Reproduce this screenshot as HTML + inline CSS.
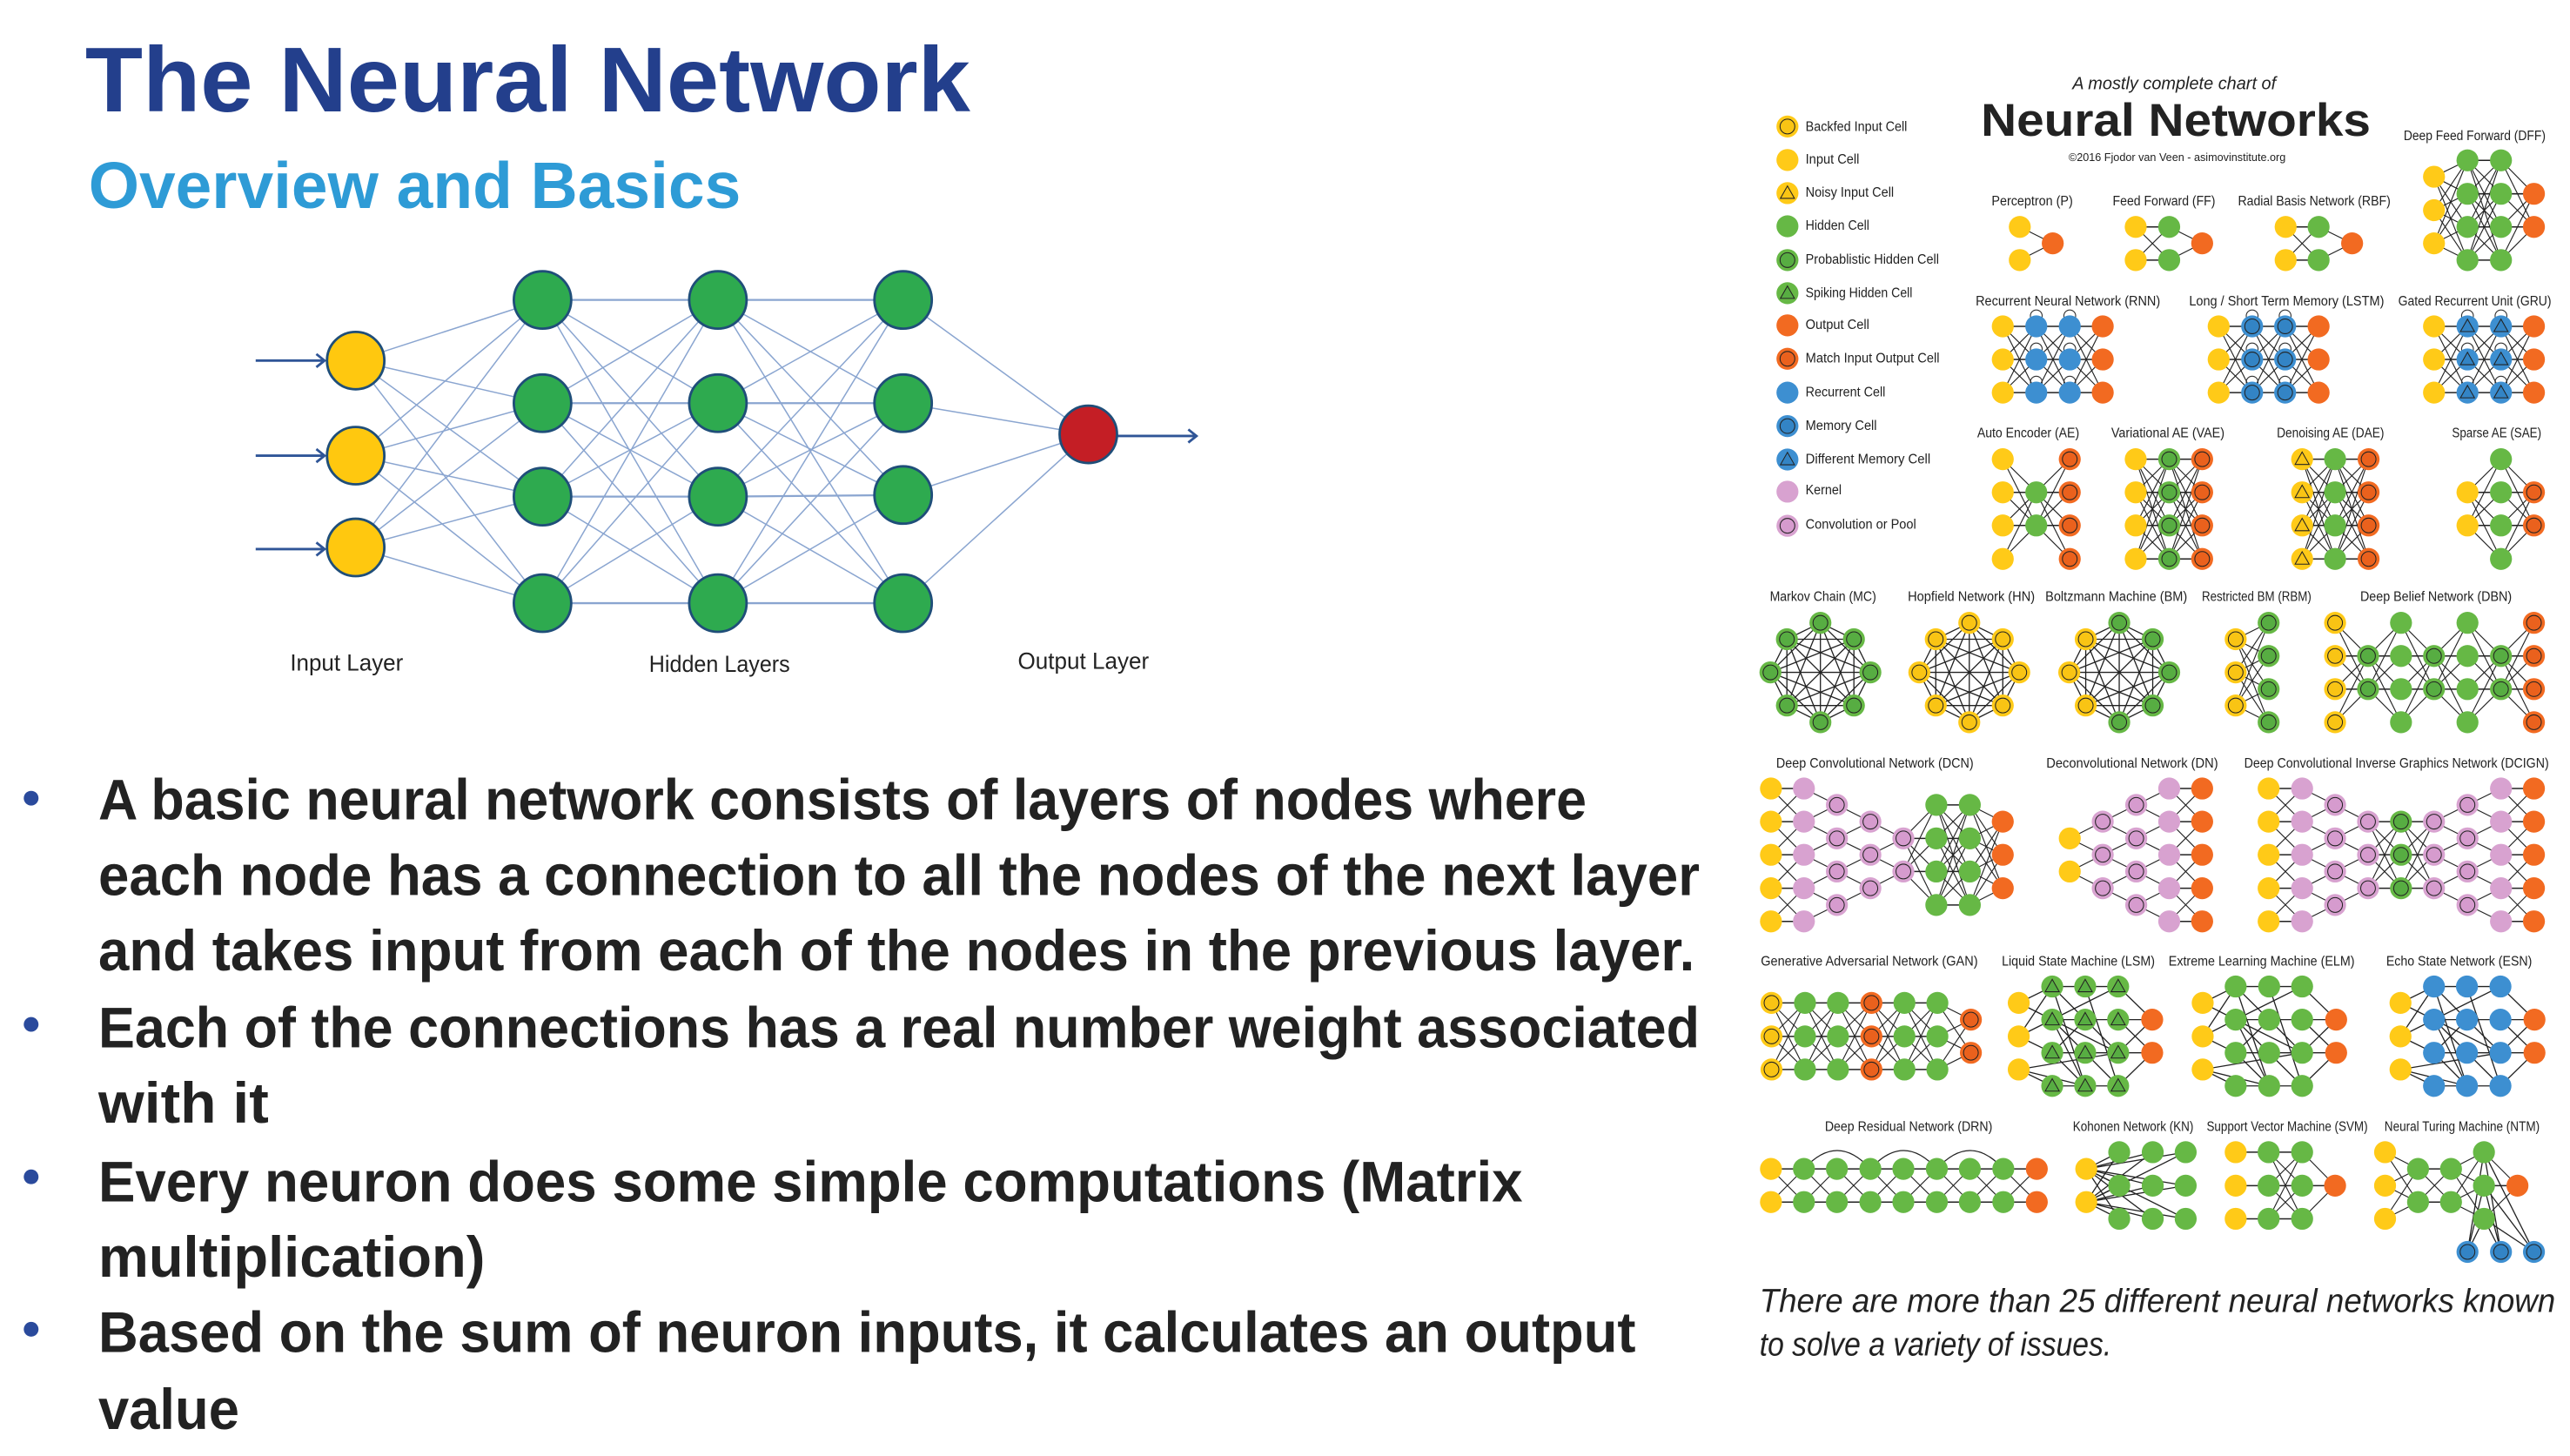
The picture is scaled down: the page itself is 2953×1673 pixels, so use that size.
<!DOCTYPE html>
<html lang="en">
<head>
<meta charset="utf-8">
<title>The Neural Network</title>
<style>
html,body{margin:0;padding:0;background:#fff;width:2953px;height:1673px;overflow:hidden}
svg{display:block}
text{font-family:"Liberation Sans",sans-serif}
.ti{font-weight:bold;fill:#233f8c}
.su{font-weight:bold;fill:#2e9bd6}
.bu{font-weight:bold;font-size:35px;fill:#222}
.la{font-size:14px;fill:#222}
.c{font-size:8.4px;fill:#222}
.cap{font-style:italic;font-size:20px;fill:#222}
</style>
</head>
<body>
<svg xmlns="http://www.w3.org/2000/svg" width="2953" height="1673" viewBox="0 0 1568 888.33">
<rect width="1568" height="889" fill="#fff"/>
<text class="ti" x="52" y="68" font-size="56" textLength="540" lengthAdjust="spacingAndGlyphs">The Neural Network</text>
<text class="su" x="54" y="127" font-size="40" textLength="398" lengthAdjust="spacingAndGlyphs">Overview and Basics</text>

<g id="lnn"></g>
<text class="la" x="177" y="409" textLength="69" lengthAdjust="spacingAndGlyphs">Input Layer</text>
<text class="la" x="396" y="410" textLength="86" lengthAdjust="spacingAndGlyphs">Hidden Layers</text>
<text class="la" x="621" y="408" textLength="80" lengthAdjust="spacingAndGlyphs">Output Layer</text>

<g fill="#2a4a9c"><circle cx="19" cy="487" r="4.5"/><circle cx="19" cy="625" r="4.5"/><circle cx="19" cy="718" r="4.5"/><circle cx="19" cy="811" r="4.5"/></g>
<text class="bu" x="60" y="500" textLength="908" lengthAdjust="spacingAndGlyphs">A basic neural network consists of layers of nodes where</text>
<text class="bu" x="60" y="546" textLength="977" lengthAdjust="spacingAndGlyphs">each node has a connection to all the nodes of the next layer</text>
<text class="bu" x="60" y="592" textLength="974" lengthAdjust="spacingAndGlyphs">and takes input from each of the nodes in the previous layer.</text>
<text class="bu" x="60" y="639" textLength="977" lengthAdjust="spacingAndGlyphs">Each of the connections has a real number weight associated</text>
<text class="bu" x="60" y="685" textLength="104" lengthAdjust="spacingAndGlyphs">with it</text>
<text class="bu" x="60" y="733" textLength="869" lengthAdjust="spacingAndGlyphs">Every neuron does some simple computations (Matrix</text>
<text class="bu" x="60" y="779" textLength="236" lengthAdjust="spacingAndGlyphs">multiplication)</text>
<text class="bu" x="60" y="825" textLength="938" lengthAdjust="spacingAndGlyphs">Based on the sum of neuron inputs, it calculates an output</text>
<text class="bu" x="60" y="872" textLength="86" lengthAdjust="spacingAndGlyphs">value</text>

<g id="edges"></g>
<g id="nodes"></g>

<text x="1264.4" y="54.3" font-size="11" font-style="italic" fill="#222" textLength="124.2" lengthAdjust="spacingAndGlyphs">A mostly complete chart of</text>
<text x="1208.6" y="82.9" font-size="28" font-weight="bold" fill="#222" textLength="237.8" lengthAdjust="spacingAndGlyphs">Neural Networks</text>
<text x="1262.1" y="98.2" font-size="7" fill="#222" textLength="132.4" lengthAdjust="spacingAndGlyphs">©2016 Fjodor van Veen - asimovinstitute.org</text>

<text class="c" x="1101.6" y="79.8" textLength="62" lengthAdjust="spacingAndGlyphs">Backfed Input Cell</text>
<text class="c" x="1101.6" y="99.9" textLength="32.8" lengthAdjust="spacingAndGlyphs">Input Cell</text>
<text class="c" x="1101.6" y="120.1" textLength="53.9" lengthAdjust="spacingAndGlyphs">Noisy Input Cell</text>
<text class="c" x="1101.6" y="140.3" textLength="38.9" lengthAdjust="spacingAndGlyphs">Hidden Cell</text>
<text class="c" x="1101.6" y="161" textLength="81.4" lengthAdjust="spacingAndGlyphs">Probablistic Hidden Cell</text>
<text class="c" x="1101.6" y="181.2" textLength="65.2" lengthAdjust="spacingAndGlyphs">Spiking Hidden Cell</text>
<text class="c" x="1101.6" y="200.8" textLength="38.9" lengthAdjust="spacingAndGlyphs">Output Cell</text>
<text class="c" x="1101.6" y="221.2" textLength="81.7" lengthAdjust="spacingAndGlyphs">Match Input Output Cell</text>
<text class="c" x="1101.6" y="241.8" textLength="48.7" lengthAdjust="spacingAndGlyphs">Recurrent Cell</text>
<text class="c" x="1101.6" y="262.3" textLength="43.5" lengthAdjust="spacingAndGlyphs">Memory Cell</text>
<text class="c" x="1101.6" y="282.7" textLength="76.2" lengthAdjust="spacingAndGlyphs">Different Memory Cell</text>
<text class="c" x="1101.6" y="301.7" textLength="22" lengthAdjust="spacingAndGlyphs">Kernel</text>
<text class="c" x="1101.6" y="322.5" textLength="67.5" lengthAdjust="spacingAndGlyphs">Convolution or Pool</text>

<text class="c" x="1466.5" y="85.4" textLength="86.6" lengthAdjust="spacingAndGlyphs">Deep Feed Forward (DFF)</text>
<text class="c" x="1215.1" y="125.4" textLength="49.6" lengthAdjust="spacingAndGlyphs">Perceptron (P)</text>
<text class="c" x="1289" y="125.4" textLength="62.6" lengthAdjust="spacingAndGlyphs">Feed Forward (FF)</text>
<text class="c" x="1365.4" y="125.4" textLength="93.1" lengthAdjust="spacingAndGlyphs">Radial Basis Network (RBF)</text>
<text class="c" x="1205.4" y="186.4" textLength="112.6" lengthAdjust="spacingAndGlyphs">Recurrent Neural Network (RNN)</text>
<text class="c" x="1335.6" y="186.4" textLength="119" lengthAdjust="spacingAndGlyphs">Long / Short Term Memory (LSTM)</text>
<text class="c" x="1463.2" y="186.4" textLength="93.4" lengthAdjust="spacingAndGlyphs">Gated Recurrent Unit (GRU)</text>
<text class="c" x="1206.3" y="266.8" textLength="62.3" lengthAdjust="spacingAndGlyphs">Auto Encoder (AE)</text>
<text class="c" x="1288.1" y="266.8" textLength="69.1" lengthAdjust="spacingAndGlyphs">Variational AE (VAE)</text>
<text class="c" x="1389.1" y="266.8" textLength="65.5" lengthAdjust="spacingAndGlyphs">Denoising AE (DAE)</text>
<text class="c" x="1496" y="266.8" textLength="54.5" lengthAdjust="spacingAndGlyphs">Sparse AE (SAE)</text>
<text class="c" x="1079.8" y="366.7" textLength="64.9" lengthAdjust="spacingAndGlyphs">Markov Chain (MC)</text>
<text class="c" x="1164" y="366.7" textLength="77.5" lengthAdjust="spacingAndGlyphs">Hopfield Network (HN)</text>
<text class="c" x="1247.9" y="366.7" textLength="86.6" lengthAdjust="spacingAndGlyphs">Boltzmann Machine (BM)</text>
<text class="c" x="1343.4" y="366.7" textLength="66.8" lengthAdjust="spacingAndGlyphs">Restricted BM (RBM)</text>
<text class="c" x="1440" y="366.7" textLength="92.5" lengthAdjust="spacingAndGlyphs">Deep Belief Network (DBN)</text>
<text class="c" x="1083.7" y="468.4" textLength="120.4" lengthAdjust="spacingAndGlyphs">Deep Convolutional Network (DCN)</text>
<text class="c" x="1248.5" y="468.4" textLength="104.8" lengthAdjust="spacingAndGlyphs">Deconvolutional Network (DN)</text>
<text class="c" x="1369.2" y="468.4" textLength="185.9" lengthAdjust="spacingAndGlyphs">Deep Convolutional Inverse Graphics Network (DCIGN)</text>
<text class="c" x="1074.3" y="589.2" textLength="132.4" lengthAdjust="spacingAndGlyphs">Generative Adversarial Network (GAN)</text>
<text class="c" x="1221.3" y="589.2" textLength="93.4" lengthAdjust="spacingAndGlyphs">Liquid State Machine (LSM)</text>
<text class="c" x="1323.1" y="589.2" textLength="113.5" lengthAdjust="spacingAndGlyphs">Extreme Learning Machine (ELM)</text>
<text class="c" x="1455.9" y="589.2" textLength="88.9" lengthAdjust="spacingAndGlyphs">Echo State Network (ESN)</text>
<text class="c" x="1113.4" y="690" textLength="102.2" lengthAdjust="spacingAndGlyphs">Deep Residual Network (DRN)</text>
<text class="c" x="1264.7" y="690" textLength="73.6" lengthAdjust="spacingAndGlyphs">Kohonen Network (KN)</text>
<text class="c" x="1346.3" y="690" textLength="98.3" lengthAdjust="spacingAndGlyphs">Support Vector Machine (SVM)</text>
<text class="c" x="1454.8" y="690" textLength="94.7" lengthAdjust="spacingAndGlyphs">Neural Turing Machine (NTM)</text>

<text class="cap" x="1073.5" y="800.5" textLength="485.6" lengthAdjust="spacingAndGlyphs">There are more than 25 different neural networks known</text>
<text class="cap" x="1073.5" y="827" textLength="214.8" lengthAdjust="spacingAndGlyphs">to solve a variety of issues.</text>
</svg>
<script>
(function(){
var OFF=[31.86,350.4,568.2],E='',N='',R=6.7;
function f(v){return Math.round(v*100)/100}
function P(z,x,y){return [1062+.3244*x,OFF[z]+.2042*y]}
function line(a,b,w,col){E+='<line x1="'+f(a[0])+'" y1="'+f(a[1])+'" x2="'+f(b[0])+'" y2="'+f(b[1])+'" stroke="'+(col||'#222')+'" stroke-width="'+(w||.6)+'"/>'}
var C={Y:'#ffca18',G:'#66b845',O:'#f26a21',B:'#3d8fd1',P:'#d8a2d0'},D={Y:'#f9c414',G:'#57ad42',O:'#ea611d',B:'#3384c5',P:'#d69bce'};
function node(p,t){
 var x=f(p[0]),y=f(p[1]),c=t[0],m=t[1];
 N+='<circle cx="'+x+'" cy="'+y+'" r="'+R+'" fill="'+C[c]+'"/>';
 if(m==='r')N+='<circle cx="'+x+'" cy="'+y+'" r="4.5" fill="'+D[c]+'" stroke="#222" stroke-width=".55"/>';
 if(m==='t')N+='<polygon points="'+x+','+f(y-4.4)+' '+f(x+4.3)+','+f(y+3.2)+' '+f(x-4.3)+','+f(y+3.2)+'" fill="'+D[c]+'" stroke="#222" stroke-width=".55"/>';
}
function net(z,L,M,loop){
 L.forEach(function(l,i){
  if(i<L.length-1){var m=M&&M[i]!==undefined?M[i]:'f',n=L[i+1];
   l[2].forEach(function(a){n[2].forEach(function(b){
    var d=Math.abs(a-b),ok=m==='f'||(m==='n'&&d<115)||(m==='s'&&d<5);
    if(ok)line(P(z,l[1],a),P(z,n[1],b),d<5?.8:.6,'#222');
   })});
  }
 });
 L.forEach(function(l,i){l[2].forEach(function(y){
  var p=P(z,l[1],y);node(p,l[0]);
  if(loop&&i>0&&i<L.length-1){E+='<circle cx="'+f(p[0])+'" cy="'+f(p[1]-6.4)+'" r="3.6" fill="none" stroke="#333" stroke-width=".6"/>'}
 })});
}
/* legend */
[['Yr',222],['Y',322],['Yt',421],['G',520],['Gr',621],['Gt',720],['O',816],['Or',916],['B',1017],['Br',1117],['Bt',1217],['P',1313],['Pr',1415]].forEach(function(a){node(P(0,88,a[1]),a[0])});
var r3=[819,918,1017],r4=[1216,1315,1414,1514],m2=[1315,1414];
/* row 1 */
net(0,[['Y',525,[522,621]],['O',587,[571]]]);
net(0,[['Y',743,[522,621]],['G',806,[522,621]],['O',868,[571]]]);
net(0,[['Y',1025,[522,621]],['G',1087,[522,621]],['O',1150,[571]]]);
net(0,[['Y',1304,[372,472,571]],['G',1367,[323,423,522,621]],['G',1430,[323,423,522,621]],['O',1492,[423,522]]]);
/* row 2 */
net(0,[['Y',493,r3],['B',556,r3],['B',619,r3],['O',681,r3]],null,1);
net(0,[['Y',899,r3],['Br',962,r3],['Br',1024,r3],['O',1087,r3]],null,1);
net(0,[['Y',1304,r3],['Bt',1367,r3],['Bt',1430,r3],['O',1492,r3]],null,1);
/* row 3 */
net(0,[['Y',493,r4],['G',556,m2],['Or',619,r4]]);
net(0,[['Y',743,r4],['Gr',806,r4],['Or',868,r4]]);
net(0,[['Yt',1056,r4],['G',1118,r4],['Or',1181,r4]]);
net(0,[['Y',1367,m2],['G',1430,r4],['Or',1492,m2]]);
/* ring nets */
function ring(cx,types){
 var pts=[[0,145],[63,194],[94,293],[63,392],[0,442],[-63,392],[-94,293],[-63,194]].map(function(q){return P(1,cx+q[0],q[1])});
 for(var i=0;i<8;i++)for(var j=i+1;j<8;j++)line(pts[i],pts[j],.7);
 pts.forEach(function(p,i){node(p,types[i])});
}
ring(150,['Gr','Gr','Gr','Gr','Gr','Gr','Gr','Gr']);
ring(430,['Yr','Yr','Yr','Yr','Yr','Yr','Yr','Yr']);
ring(712,['Gr','Gr','Gr','Gr','Gr','Yr','Yr','Yr']);
var a4=[145,244,343,442],a2=[244,343];
net(1,[['Yr',931,[194,293,392]],['Gr',993,a4]]);
net(1,[['Yr',1118,a4],['Gr',1180,a2],['G',1242,a4],['Gr',1304,a2],['G',1367,a4],['Gr',1430,a2],['Or',1492,a4]]);
/* conv */
var c5=[640,739,838,938,1037],c4=[689,789,888,988],c3=[739,838,938],c2=[789,888];
net(1,[['Y',57,c5],['P',119,c5],['Pr',181,c4],['Pr',244,c3],['Pr',306,c2],['G',368,c4],['G',431,c4],['O',493,c3]],['n','n','n','n','f','f','f']);
net(1,[['Y',619,c2],['Pr',681,c3],['Pr',744,c4],['P',806,c5],['O',868,c5]],['n','n','n','n']);
net(1,[['Y',993,c5],['P',1056,c5],['Pr',1118,c4],['Pr',1180,c3],['Gr',1242,c3],['Pr',1304,c3],['Pr',1367,c4],['P',1430,c5],['O',1492,c5]],['n','n','n','f','f','n','n','n']);
/* GAN */
var g3=[214,314,413];
net(2,[['Yr',58,g3],['G',121,g3],['G',183,g3],['Or',246,g3],['G',308,g3],['G',370,g3],['Or',433,[264,363]]]);
/* LSM/ELM/ESN */
function sparse(x0,xs,tI,t){
 var yI=[214,314,413],yA=[165,264,363,462],yO=[264,363];
 var pos={I:[x0,yI],A:[xs[0],yA],B:[xs[1],yA],C:[xs[2],yA],O:[xs[3],yO]};
 function pt(k){return P(2,pos[k[0]][0],pos[k[0]][1][+k[1]])}
 'I0A0 I0A1 I1A0 I1A1 I1A2 I2C2 I2B3 I2A3 A0B0 B0C0 A0B1 A0B3 C0A1 B0C3 B1C1 A1B1 A1C2 A1B3 A2B3 A2B2 B1A2 B1C2 B2C2 A3B3 B3C3 C0O0 C1O0 C2O1 C3O1 C1O1 C2O0 A1C3'.split(' ').forEach(function(s){line(pt(s.slice(0,2)),pt(s.slice(2,4)),.7)});
 yI.forEach(function(y){node(P(2,x0,y),tI)});
 xs.slice(0,3).forEach(function(x){yA.forEach(function(y){node(P(2,x,y),t)})});
 yO.forEach(function(y){node(P(2,xs[3],y),'O')});
}
sparse(523,[586,648,710,774],'Y','Gt');
sparse(869,[931,994,1056,1120],'Y','G');
sparse(1241,[1304,1366,1429,1493],'Y','B');
/* DRN */
var d2=[710,809];
[[119,244],[244,369],[369,494]].forEach(function(a){
 var p=P(2,a[0],710),q=P(2,a[1],710),t=P(2,(a[0]+a[1])/2,600);
 E+='<path d="M'+f(p[0])+' '+f(p[1])+'Q'+f(t[0])+' '+f(t[1])+' '+f(q[0])+' '+f(q[1])+'" fill="none" stroke="#222" stroke-width=".7"/>';
});
net(2,[['Y',57,d2],['G',119,d2],['G',181,d2],['G',244,d2],['G',306,d2],['G',369,d2],['G',431,d2],['G',494,d2],['O',557,d2]]);
/* KN */
var k3=[660,760,859];
[712,775,837].forEach(function(x){k3.forEach(function(y){d2.forEach(function(v){line(P(2,650,v),P(2,x,y),.7)})})});
d2.forEach(function(v){node(P(2,650,v),'Y')});
[712,775,837].forEach(function(x){k3.forEach(function(y){node(P(2,x,y),'G')})});
/* SVM */
net(2,[['Y',931,k3],['G',993,k3],['G',1056,k3],['O',1118,[760]]],['s','f','f']);
/* NTM */
var bt=[1367,1430,1492];
k3.forEach(function(y){bt.forEach(function(x){line(P(2,1398,y),P(2,x,958),.7)})});
net(2,[['Y',1212,k3],['G',1274,d2],['G',1336,d2],['G',1398,k3],['O',1461,[760]]]);
bt.forEach(function(x){node(P(2,x,958),'Br')});
document.getElementById('edges').innerHTML=E;
document.getElementById('nodes').innerHTML=N;

/* left network */
var S='',lay=[[217,[220,278,334],'#ffc80f'],[331,[183,246,303,368],'#2eaa4f'],[438,[183,246,303,368],'#2eaa4f'],[551,[183,246,302,368],'#2eaa4f'],[664,[265],'#c41e25']];
for(var i=0;i<4;i++){lay[i][1].forEach(function(a){lay[i+1][1].forEach(function(b){
 var w=Math.abs(a-b)<3?1.2:.8;
 S+='<line x1="'+lay[i][0]+'" y1="'+a+'" x2="'+lay[i+1][0]+'" y2="'+b+'" stroke="#8aa5d0" stroke-width="'+w+'"/>';
})})}
[[156,220],[156,278],[156,335]].forEach(function(a){
 var e=198;
 S+='<path d="M'+a[0]+' '+a[1]+'H'+e+'M'+(e-5)+' '+(a[1]-4)+'L'+e+' '+a[1]+'L'+(e-5)+' '+(a[1]+4)+'" fill="none" stroke="#2f5597" stroke-width="1.5"/>';
});
S+='<path d="M682 266H730M725 262L730 266L725 270" fill="none" stroke="#2f5597" stroke-width="1.5"/>';
lay.forEach(function(l){l[1].forEach(function(y){
 S+='<circle cx="'+l[0]+'" cy="'+y+'" r="17.5" fill="'+l[2]+'" stroke="#1f4e79" stroke-width="1.5"/>';
})});
document.getElementById('lnn').innerHTML=S;
})();
</script>
</body>
</html>
